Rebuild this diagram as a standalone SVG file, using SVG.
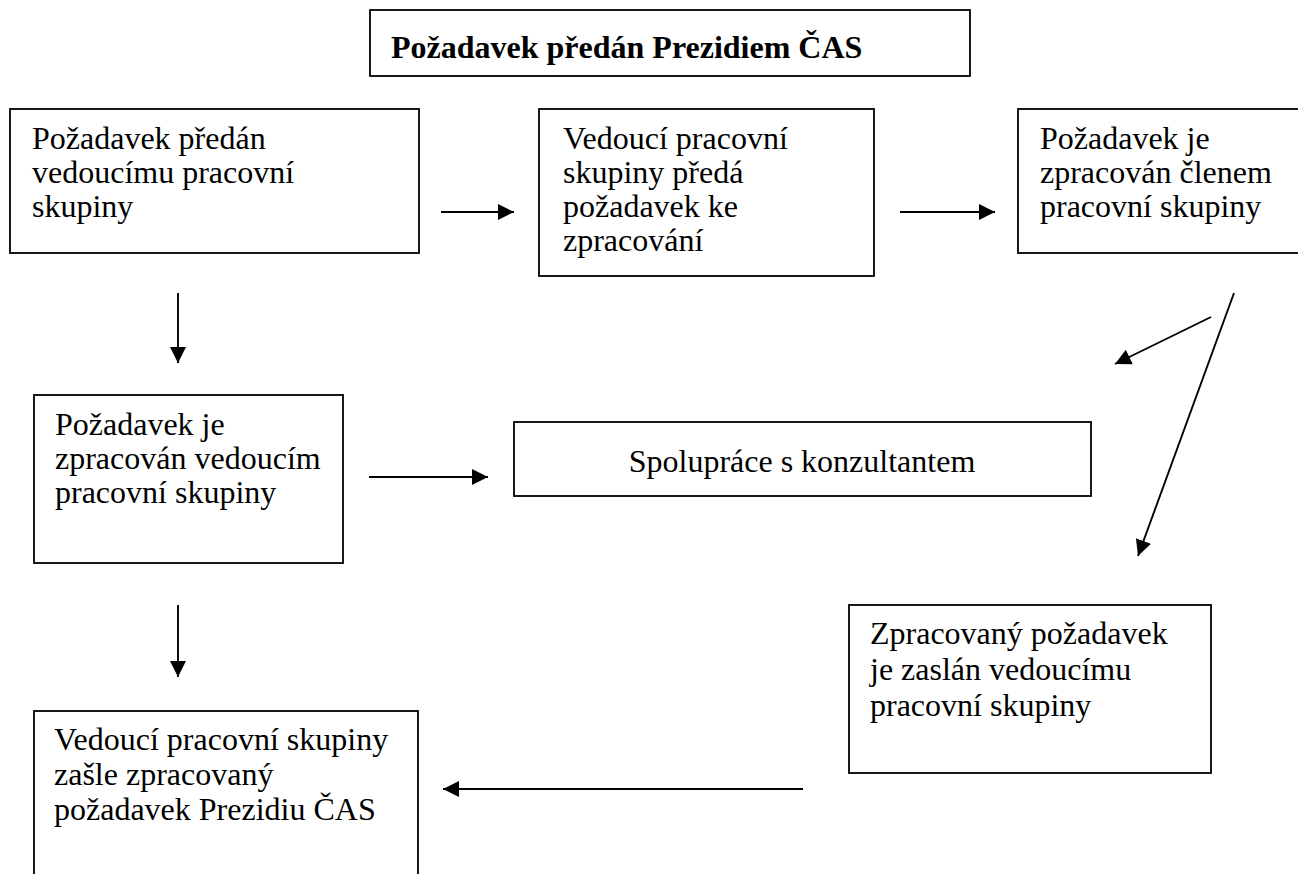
<svg xmlns="http://www.w3.org/2000/svg" width="1298" height="874" viewBox="0 0 1298 874">
<style>
rect.box{fill:#fff;stroke:#000;stroke-width:1.8}
text{font-family:"Liberation Serif","Times New Roman",serif;font-size:32px;fill:#000}
.t{font-weight:bold}
.c line{stroke:#000;stroke-width:1.9;marker-end:url(#ah)}
</style>
<defs>
<marker id="ah" markerUnits="userSpaceOnUse" markerWidth="18" markerHeight="18" viewBox="0 0 18 18" refX="16" refY="8" orient="auto">
<path d="M0,0 L16,8 L0,16 Z" fill="#000"/>
</marker>
</defs>
<rect width="1298" height="874" fill="#fff"/>
<g id="n0"><rect class="box" x="370" y="10" width="600" height="66"/><text class="t" x="391" y="58">Požadavek předán Prezidiem ČAS</text></g>
<g id="n1"><rect class="box" x="10" y="109" width="409" height="144"/><text x="32"><tspan x="32" y="149">Požadavek předán</tspan><tspan x="32" y="183">vedoucímu pracovní</tspan><tspan x="32" y="217">skupiny</tspan></text></g>
<g id="n2"><rect class="box" x="539" y="109" width="335" height="167"/><text><tspan x="563" y="149">Vedoucí pracovní</tspan><tspan x="563" y="183">skupiny předá</tspan><tspan x="563" y="217">požadavek ke</tspan><tspan x="563" y="251">zpracování</tspan></text></g>
<g id="n3"><rect class="box" x="1018" y="109" width="300" height="144"/><text><tspan x="1040" y="149">Požadavek je</tspan><tspan x="1040" y="183">zpracován členem</tspan><tspan x="1040" y="217">pracovní skupiny</tspan></text></g>
<g id="n4"><rect class="box" x="34" y="395" width="309" height="168"/><text><tspan x="55" y="435">Požadavek je</tspan><tspan x="55" y="469">zpracován vedoucím</tspan><tspan x="55" y="503">pracovní skupiny</tspan></text></g>
<g id="n5"><rect class="box" x="514" y="422" width="577" height="74"/><text x="802" y="472" text-anchor="middle">Spolupráce s konzultantem</text></g>
<g id="n6"><rect class="box" x="849" y="605" width="362" height="168"/><text><tspan x="870" y="644">Zpracovaný požadavek</tspan><tspan x="870" y="680">je zaslán vedoucímu</tspan><tspan x="870" y="716">pracovní skupiny</tspan></text></g>
<g id="n7"><rect class="box" x="34" y="711" width="384" height="200"/><text><tspan x="54" y="750">Vedoucí pracovní skupiny</tspan><tspan x="54" y="785">zašle zpracovaný</tspan><tspan x="54" y="820">požadavek Prezidiu ČAS</tspan></text></g>
<g id="connectors" class="c">
<line x1="441" y1="212" x2="514" y2="212"/>
<line x1="900" y1="212" x2="995" y2="212"/>
<line x1="178" y1="293" x2="178" y2="363"/>
<line x1="369" y1="477" x2="488" y2="477"/>
<line x1="178" y1="605" x2="178" y2="677"/>
<line x1="803" y1="789" x2="443" y2="789"/>
<line x1="1211" y1="317" x2="1115" y2="364"/>
<line x1="1234" y1="293" x2="1138" y2="556"/>
</g>
</svg>
